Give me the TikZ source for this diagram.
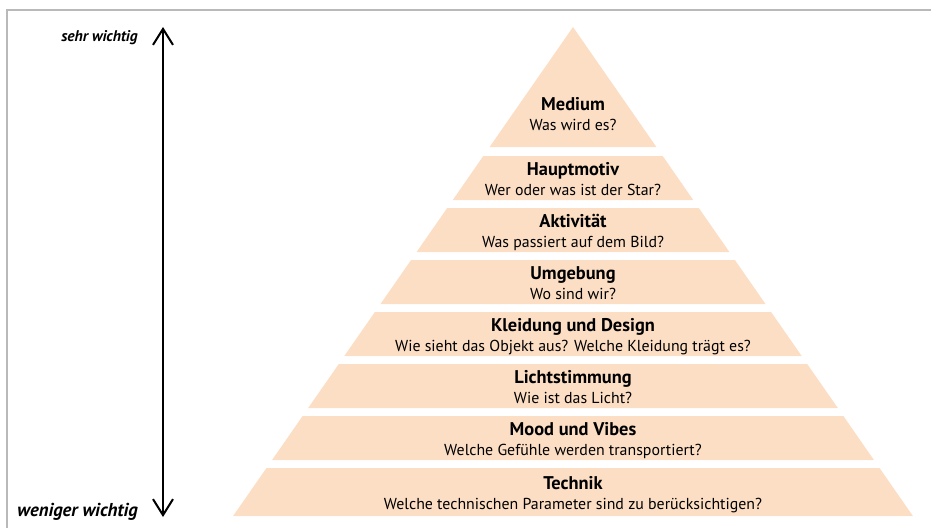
\documentclass[tikz,border=0pt]{standalone}
\usepackage{fontspec}
\setmainfont{PT Sans}
\usepackage{tikz}
\usetikzlibrary{positioning, arrows.meta}

\definecolor{peach}{RGB}{252,222,196}
\definecolor{framegray}{RGB}{185,185,185}

\begin{document}
\begin{tikzpicture}[x=0.75pt,y=0.75pt,yscale=-1,xscale=1,
    layer/.style={fill=peach, draw=none},
    title/.style={anchor=base, font=\fontsize{13.8}{16}\selectfont\bfseries, inner sep=0pt},
    question/.style={anchor=base, font=\fontsize{11.9}{14}\selectfont, inner sep=0pt},
    scale label/.style={anchor=base east, font=\bfseries\itshape, inner sep=0pt}]
    \useasboundingbox (0,0) rectangle (931,528);

    %Frame (top and left edge of the screenshot)
    \draw [framegray, line width=0.8pt] (7,528) -- (7,10) -- (931,10) ;

    %Shape: Triangle [Medium]
    \path [layer] (573,27) -- (656.4,147) -- (489.6,147) -- cycle ;
    %Shape: Trapezoid [Hauptmotiv]
    \path [layer] (483.3,156) -- (662.7,156) -- (693.2,200) -- (452.8,200) -- cycle ;
    %Shape: Trapezoid [Aktivitaet]
    \path [layer] (447.2,208) -- (698.8,208) -- (729.4,252) -- (416.6,252) -- cycle ;
    %Shape: Trapezoid [Umgebung]
    \path [layer] (411.1,260) -- (734.9,260) -- (765.5,304) -- (380.5,304) -- cycle ;
    %Shape: Trapezoid [Kleidung]
    \path [layer] (374.9,312) -- (771.1,312) -- (801.7,356) -- (344.3,356) -- cycle ;
    %Shape: Trapezoid [Lichtstimmung]
    \path [layer] (338.8,364) -- (807.2,364) -- (837.8,408) -- (308.2,408) -- cycle ;
    %Shape: Trapezoid [Mood]
    \path [layer] (302.6,416) -- (843.4,416) -- (873.9,460) -- (272.1,460) -- cycle ;
    %Shape: Trapezoid [Technik]
    \path [layer] (266.5,468) -- (879.5,468) -- (912.9,516) -- (233.1,516) -- cycle ;

    % Text Node
    \node [title] (medium) at (573,110) {Medium};
    \node [question] (medium-q) at (573,130) {Was wird es?};
    % Text Node
    \node [title] (motiv) at (573,175) {Hauptmotiv};
    \node [question] (motiv-q) at (573,195) {Wer oder was ist der Star?};
    % Text Node
    \node [title] (aktiv) at (573,227) {Aktivität};
    \node [question] (aktiv-q) at (573,247) {Was passiert auf dem Bild?};
    % Text Node
    \node [title] (umgeb) at (573,279) {Umgebung};
    \node [question] (umgeb-q) at (573,299) {Wo sind wir?};
    % Text Node
    \node [title] (kleid) at (573,331) {Kleidung und Design};
    \node [question] (kleid-q) at (573,351) {Wie sieht das Objekt aus? Welche Kleidung trägt es?};
    % Text Node
    \node [title] (licht) at (573,383) {Lichtstimmung};
    \node [question] (licht-q) at (573,403) {Wie ist das Licht?};
    % Text Node
    \node [title] (mood) at (573,435) {Mood und Vibes};
    \node [question] (mood-q) at (573,455) {Welche Gefühle werden transportiert?};
    % Text Node
    \node [title] (technik) at (573,489) {Technik};
    \node [question] (technik-q) at (573,509) {Welche technischen Parameter sind zu berücksichtigen?};

    %Importance arrow
    \coordinate (top) at (163,27);
    \coordinate (bottom) at (163,517);
    \draw [line width=1.5pt, {Straight Barb[length=12pt, width=15pt]}-{Straight Barb[length=12pt, width=15pt]}] (top) -- (bottom) ;

    % Text Node
    \node [scale label, font=\fontsize{11.6}{13}\selectfont\bfseries\itshape] (sehr) at (138,42) {sehr wichtig};
    % Text Node
    \node [scale label, font=\fontsize{14}{16}\selectfont\bfseries\itshape] (weniger) at (138,516) {weniger wichtig};

\end{tikzpicture}
\end{document}
